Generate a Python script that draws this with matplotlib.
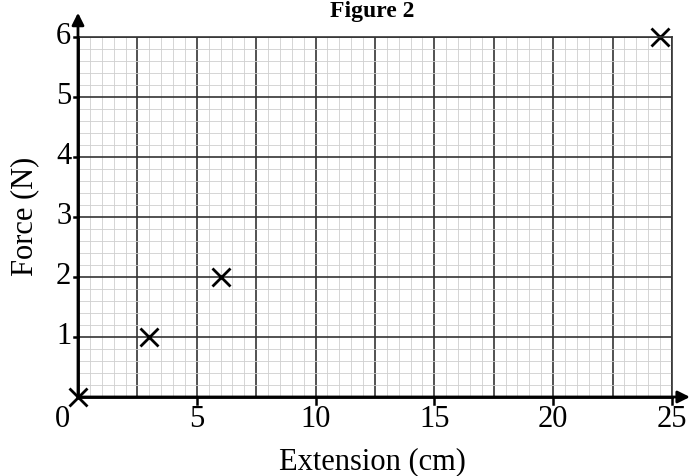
import numpy as np
import matplotlib.pyplot as plt
from matplotlib.transforms import offset_copy

# Datos
extension = [0, 3, 6, 24.5]   # cm
force = [0, 1, 2, 6]          # N
xticks = [0, 5, 10, 15, 20, 25]
xlabels = ["0", "5", "10", "15", "20", "25"]
yticks = [1, 2, 3, 4, 5, 6]
ylabels = ["1", "2", "3", "4", "5", "6"]

plt.rcParams['font.family'] = ['Liberation Serif', 'DejaVu Serif']

fig = plt.figure(figsize=(6.89, 4.76), dpi=100)
ax = fig.add_axes([0.1132, 0.166, 0.862, 0.7563])
ax.set_xlim(0, 25)
ax.set_ylim(0, 6)

# papel milimetrado
ax.set_xticks(np.arange(0, 25.01, 2.5))
ax.set_yticks(np.arange(0, 6.01, 1))
ax.set_xticks(np.arange(0, 25.01, 0.5), minor=True)
ax.set_yticks(np.arange(0, 6.01, 0.2), minor=True)
ax.grid(which='minor', color='#cfcfcf', lw=0.6)
ax.grid(which='major', color='#353535', lw=1.2)
ax.tick_params(which='both', length=0, labelbottom=False, labelleft=False)
ax.set_axisbelow(True)

for s in ['top', 'right']:
    ax.spines[s].set_color('#353535')
    ax.spines[s].set_linewidth(1.2)
for s in ['left', 'bottom']:
    ax.spines[s].set_linewidth(2)

# ejes con flecha
ax.annotate('', xy=(0, 1.075), xytext=(0, 0), xycoords='axes fraction',
            arrowprops=dict(arrowstyle='-|>', lw=2, color='black', mutation_scale=18),
            annotation_clip=False)
ax.annotate('', xy=(1.035, 0), xytext=(0, 0), xycoords='axes fraction',
            arrowprops=dict(arrowstyle='-|>', lw=2, color='black', mutation_scale=18),
            annotation_clip=False)

# marcas y etiquetas de los ejes
for xv, lab in zip(xticks, xlabels):
    if xv > 0:
        ax.plot([xv, xv], [0, -0.12], color='black', lw=1.8, clip_on=False)
        ax.text(xv, -0.14, lab, ha='center', va='top', fontsize=22)
    else:
        t = offset_copy(ax.transData, fig=fig, x=-8, y=0, units='dots')
        ax.text(xv, -0.14, lab, ha='right', va='top', fontsize=22, transform=t)
for yv, lab in zip(yticks, ylabels):
    ax.plot([-0.15, 0], [yv, yv], color='black', lw=1.8, clip_on=False)
    ax.text(-0.28, yv, lab, ha='right', va='center', fontsize=22)

ax.plot(extension, force, 'x', color='black', ms=13, mew=2, clip_on=False)

fig.text(0.112 - 0.076, 0.545, 'Force (N)', rotation=90, ha='center', va='center', fontsize=22)
fig.text(0.541, 0.03, 'Extension (cm)', ha='center', va='center', fontsize=22)
fig.text(0.54, 0.975, 'Figure 2', ha='center', va='center', fontsize=17, fontweight='bold')

fig.savefig('out.png', dpi=100)
